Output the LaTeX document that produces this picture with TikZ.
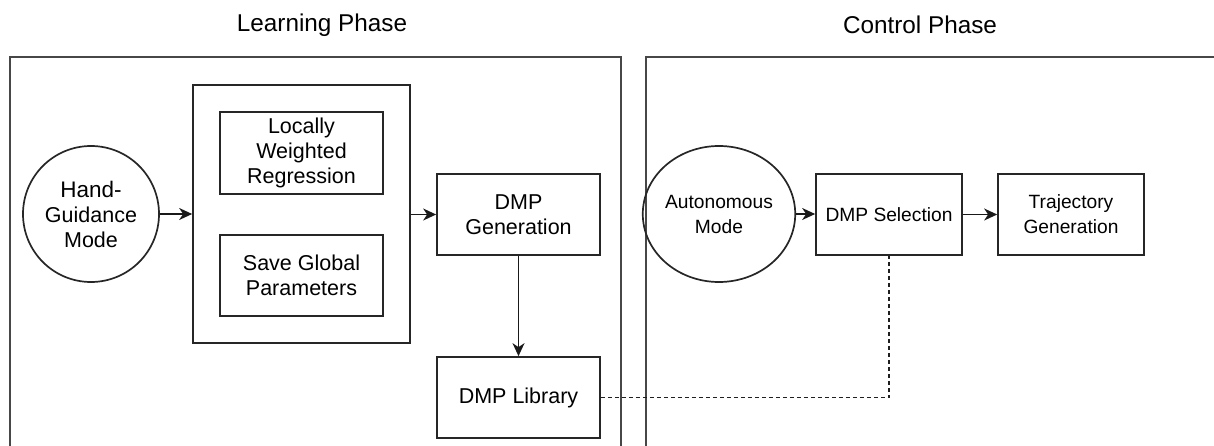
\documentclass[tikz,border=0pt]{standalone}
\usepackage{fontspec}
\setmainfont{Liberation Sans}
\usetikzlibrary{arrows.meta,shapes.geometric}
\begin{document}
\begin{tikzpicture}[x=1pt,y=-1pt,
  lw/.style={line width=1.7pt,draw=black!85},
  frame/.style={line width=2pt,draw=black!72},
  box/.style={lw,rectangle,align=center,inner sep=0pt,
    font=\fontsize{21.5}{25}\selectfont},
  small/.style={font=\fontsize{19.2}{25}\selectfont},
  roundnode/.style={box,ellipse},
  title/.style={font=\fontsize{24.3}{28}\selectfont},
  flow/.style={line width=1.5pt,draw=black!90,-{Stealth[length=13pt,width=12pt,inset=4pt]}},
  link/.style={line width=1.3pt,draw=black!88,dash pattern=on 4pt off 3pt}]
\useasboundingbox (0,0) rectangle (1214,446);

% phase frames (open at the bottom)
\draw[frame] (10,446) -- (10,57) -- (621,57) -- (621,446);
\draw[frame] (646,446) -- (646,57) -- (1216,57);
\node[title] (tl) at (322,25) {Learning Phase};
\node[title] (tc) at (920,25) {Control Phase};

% learning phase
\node[roundnode,minimum width=136pt,minimum height=136pt] (hand) at (91,214) {\fontsize{22.5}{25}\selectfont Hand-\\Guidance\\Mode};
\node[box,minimum width=217pt,minimum height=258pt] (grp) at (301.5,214) {};
\node[box,minimum width=163pt,minimum height=82pt] (lwr) at (301.5,153) {Locally\\Weighted\\Regression};
\node[box,minimum width=163pt,minimum height=81pt] (save) at (301.5,275.5) {Save Global\\Parameters};
\node[box,minimum width=163pt,minimum height=81pt] (gen) at (518.5,214.5) {DMP\\Generation};
\node[box,minimum width=163pt,minimum height=81pt] (lib) at (518.5,397.5) {DMP Library};

% control phase
\node[roundnode,small,minimum width=122pt,minimum height=136pt] (auto) at (719,214) {Autonomous\\Mode};
\node[box,small,minimum width=146pt,minimum height=81pt] (sel) at (889,214.5) {DMP Selection};
\node[box,small,minimum width=146pt,minimum height=81pt] (traj) at (1071,214.5) {Trajectory\\Generation};

% connectors
\draw[flow] (hand.east) -- (grp.west |- hand.east);
\draw[flow] (grp.east |- gen.west) -- (gen.west);
\draw[flow] (gen.south) -- (lib.north);
\draw[flow] (auto.east) -- (sel.west |- auto.east);
\draw[flow] (sel.east) -- (traj.west);
\draw[link] (lib.east) -| (sel.south);
\end{tikzpicture}
\end{document}
